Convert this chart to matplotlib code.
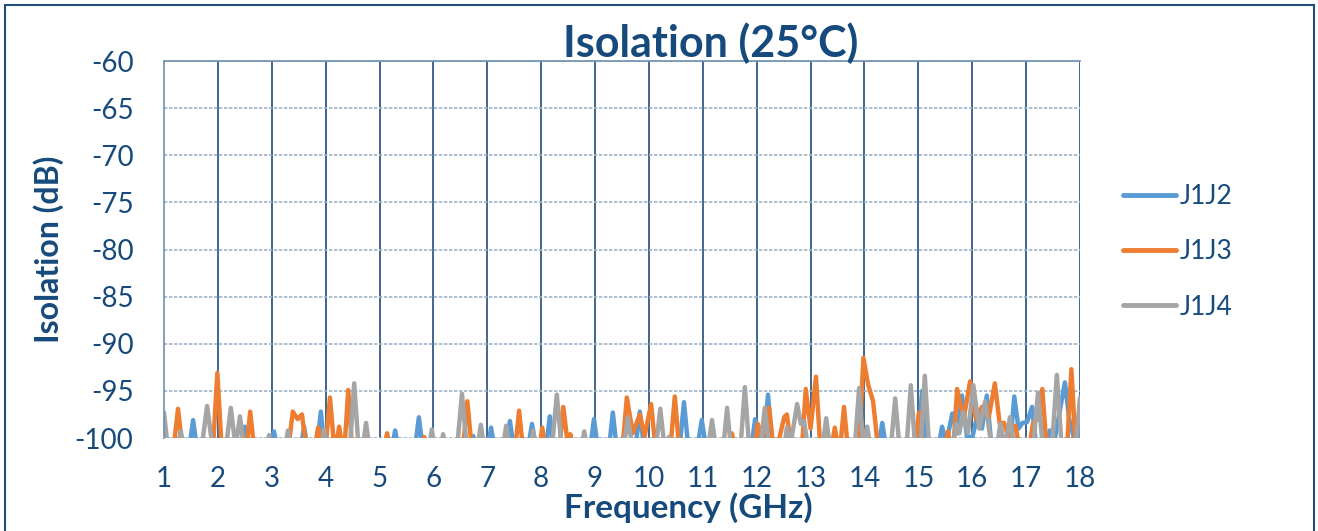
import matplotlib
matplotlib.use("Agg")
import matplotlib.pyplot as plt
from matplotlib.patches import Rectangle

# frequency (GHz) and isolation (dB), troughs at -101
j1j2_f = [1.0, 1.47, 1.54, 1.61, 2.27, 2.34, 2.41, 2.44, 2.50, 2.56, 2.98, 3.04, 3.10,
          3.54, 3.60, 3.66, 3.84, 3.91, 3.98, 5.23, 5.29, 5.35, 5.66, 5.73, 5.80,
          6.69, 6.74, 6.79, 7.01, 7.07, 7.13, 7.35, 7.42, 7.49, 7.76, 7.83, 7.90,
          8.09, 8.16, 8.23, 8.91, 8.98, 9.05, 9.26, 9.33, 9.40, 9.75, 9.83, 9.91,
          10.57, 10.65, 10.73, 10.90, 10.98, 11.06, 11.90, 11.97, 12.04, 12.13, 12.21, 12.29,
          14.26, 14.33, 14.40, 14.99, 15.07, 15.14, 15.37, 15.44, 15.52, 15.63, 15.72,
          15.81, 15.90, 16.00, 16.09, 16.18, 16.27, 16.36, 16.70, 16.78, 16.86, 16.93,
          17.02, 17.11, 17.19, 17.37, 17.44, 17.52, 17.72, 17.80, 17.93, 18.0]
j1j2_db = [-101, -101, -98.1, -101, -101, -99.9, -101, -101, -98.8, -101, -101, -99.3, -101,
           -101, -98.8, -101, -101, -97.2, -101, -101, -99.2, -101, -101, -97.8, -101,
           -101, -99.8, -101, -101, -98.9, -101, -101, -98.2, -101, -101, -98.5, -101,
           -101, -97.7, -101, -101, -98.0, -101, -101, -97.3, -101, -101, -97.2, -101,
           -101, -96.2, -101, -101, -98.1, -101, -101, -98.0, -100.2, -100.2, -95.4, -101,
           -101, -98.4, -101, -101, -95.0, -101, -101, -98.8, -100.5, -97.4, -99.5,
           -95.5, -99.8, -100.0, -97.7, -99.0, -95.5, -101, -101, -95.6, -99.0, -98.4,
           -98.3, -96.7, -101, -101, -99.2, -100.5, -94.1, -98.0, -101, -98.9]

j1j3_f = [1.0, 1.18, 1.26, 1.34, 1.91, 1.99, 2.07, 2.53, 2.60, 2.67, 3.31, 3.39, 3.48,
          3.56, 3.64, 3.80, 3.86, 3.92, 4.00, 4.08, 4.16, 4.19, 4.25, 4.31, 4.35, 4.42, 4.49,
          5.09, 5.14, 5.19, 5.79, 5.83, 5.87, 6.55, 6.63, 6.71, 7.52, 7.59, 7.66,
          7.97, 8.02, 8.07, 8.34, 8.41, 8.48, 8.51, 8.54, 8.57, 9.51, 9.59, 9.70, 9.83, 9.92,
          10.04, 10.12, 10.40, 10.48, 10.56, 11.49, 11.54, 11.59, 11.96, 12.02, 12.10, 12.23,
          12.31, 12.38, 12.51, 12.56, 12.64, 12.84, 12.91, 13.00, 13.10, 13.18, 13.39, 13.45,
          13.51, 13.55, 13.62, 13.69, 13.90, 13.98, 14.07, 14.16, 14.25, 14.94, 15.01, 15.08,
          15.50, 15.55, 15.60, 15.65, 15.72, 15.84, 15.96, 16.07, 16.18, 16.30, 16.42, 16.51,
          16.59, 16.68, 16.80, 16.88, 17.06, 17.13, 17.21, 17.30, 17.38, 17.76, 17.84, 17.92, 18.0]
j1j3_db = [-101, -101, -96.9, -101, -101, -93.1, -101, -101, -97.2, -101, -101, -97.2, -98.0,
           -97.5, -101, -101, -98.9, -100.3, -101, -95.7, -101, -101, -98.8, -101, -101, -94.9, -101,
           -101, -99.5, -101, -101, -99.9, -101, -101, -96.1, -101, -101, -97.1, -101,
           -101, -98.9, -101, -101, -96.7, -100.0, -101, -99.6, -101, -101, -95.7, -99.5, -97.5, -99.8,
           -96.4, -101, -101, -95.6, -101, -101, -99.5, -101, -101, -98.5, -100.0, -96.8,
           -101, -101, -97.8, -97.5, -101, -101, -94.8, -99.0, -93.5, -101, -101, -98.9,
           -101, -101, -96.7, -101, -101, -91.5, -94.4, -96.1, -101, -101, -97.3, -101,
           -101, -99.3, -101, -101, -94.8, -98.0, -94.0, -98.0, -96.7, -98.0, -94.2, -98.5,
           -98.4, -100.0, -98.7, -101, -101, -98.4, -98.0, -94.8, -101, -101, -92.7, -101, -101]

j1j4_f = [1.0, 1.07, 1.25, 1.31, 1.37, 1.70, 1.80, 1.90, 2.15, 2.24, 2.33, 2.41, 2.48,
          2.91, 2.95, 2.99, 3.25, 3.30, 3.35, 3.92, 3.97, 4.02, 4.45, 4.53, 4.61, 4.69, 4.75, 4.81,
          5.92, 5.97, 6.02, 6.14, 6.18, 6.22, 6.44, 6.53, 6.62, 6.82, 6.88, 6.94, 7.29, 7.35, 7.41,
          7.80, 7.85, 7.90, 8.20, 8.29, 8.38, 8.75, 8.80, 8.85, 9.53, 9.61, 9.69, 10.13, 10.21, 10.29,
          10.33, 10.37, 10.41, 11.10, 11.17, 11.24, 11.38, 11.45, 11.52, 11.70, 11.78, 11.86,
          12.07, 12.15, 12.23, 12.51, 12.56, 12.62, 12.75, 12.82, 12.88, 12.95, 13.22, 13.29, 13.36,
          13.82, 13.90, 13.98, 14.05, 14.11, 14.49, 14.57, 14.65, 14.78, 14.86, 14.94, 15.04, 15.12,
          15.20, 15.64, 15.70, 15.76, 15.83, 15.92, 16.02, 16.13, 16.24, 16.36, 16.46, 16.52, 16.61,
          16.70, 16.78, 17.13, 17.22, 17.31, 17.48, 17.57, 17.66, 17.92, 18.0]
j1j4_db = [-97.3, -101, -101, -99.3, -101, -101, -96.6, -101, -101, -96.8, -101, -97.7, -101,
           -101, -99.7, -101, -101, -99.2, -101, -101, -99.1, -101, -101, -94.2, -101, -101, -98.4, -101,
           -101, -99.1, -101, -101, -99.6, -101, -101, -95.3, -101, -101, -98.6, -101, -101, -98.7, -101,
           -101, -99.2, -101, -101, -95.4, -101, -101, -99.3, -101, -101, -97.8, -101, -101, -96.9, -101,
           -101, -99.9, -101, -101, -98.1, -101, -101, -96.8, -101, -101, -94.6, -101,
           -101, -96.8, -101, -101, -98.9, -101, -96.4, -98.5, -98.2, -101, -101, -97.9, -101,
           -101, -94.7, -101, -98.8, -101, -101, -95.8, -101, -101, -94.4, -101, -101, -93.4,
           -101, -101, -98.5, -99.5, -97.2, -99.5, -94.4, -99.0, -96.1, -101, -101, -98.5, -101,
           -97.8, -101, -101, -95.2, -101, -101, -93.3, -101, -101, -95.7]

series_names = ["J1J2", "J1J3", "J1J4"]
series_colors = ["#5B9BD5", "#ED7D31", "#A5A5A5"]
text_color = "#174A7C"

plt.rcParams["font.family"] = ["Lato", "DejaVu Sans"]
plt.rcParams["axes.unicode_minus"] = False

fig = plt.figure(figsize=(13.18, 5.31), dpi=100)
ax = fig.add_axes([164 / 1318, 1 - 438 / 531, 916 / 1318, 377 / 531])

for f, db, name, c in zip([j1j2_f, j1j3_f, j1j4_f], [j1j2_db, j1j3_db, j1j4_db],
                          series_names, series_colors):
    ax.plot(f, db, color=c, lw=3.2, label=name, solid_joinstyle="round",
            solid_capstyle="round")

ax.set_xlim(1, 18)
ax.set_ylim(-100, -60)
ax.set_xticks(range(1, 19))
ax.set_yticks(range(-100, -59, 5))

# gridlines: solid navy verticals, dashed light horizontals
for x in range(2, 19):
    ax.axvline(x, color="#1F4E79", lw=1.2, zorder=0)
ax.yaxis.grid(True, color="#9DB3C8", lw=1.2, ls=(0, (2, 1)), zorder=0)
ax.set_axisbelow(True)
for s in ["top", "left"]:
    ax.spines[s].set_color("#6E8FAF")
    ax.spines[s].set_linewidth(1.2)
ax.spines["right"].set_visible(False)
ax.spines["bottom"].set_visible(False)

ax.tick_params(length=0, labelsize=20, labelcolor=text_color)
ax.tick_params(axis="x", pad=20)
ax.tick_params(axis="y", pad=22)

ax.set_xlabel("Frequency (GHz)", fontsize=24, fontweight="bold", color=text_color)
ax.xaxis.set_label_coords((688 - 164) / 916, -(508 - 438) / 377)
ax.xaxis.label.set_va("center")
ax.set_ylabel("Isolation (dB)", fontsize=23, fontweight="bold", color=text_color, labelpad=8)
fig.text(711 / 1318, 1 - 43 / 531, "Isolation (25°C)", fontsize=31, fontweight="bold",
         color=text_color, ha="center", va="center")

leg = ax.legend(loc="center left", bbox_to_anchor=(1.021, 0.494), frameon=False,
                fontsize=19, labelspacing=1.15, handlelength=2.0, handletextpad=0.15)
for t in leg.get_texts():
    t.set_color(text_color)
for h in leg.get_lines():
    h.set_linewidth(3.5)

fig.patches.append(Rectangle((5 / 1318, -0.02), 1309 / 1318, 1 - 5 / 531 + 0.02,
                             transform=fig.transFigure, fill=False,
                             edgecolor="#1F4E79", lw=1.5))

fig.savefig("out.png", dpi=100)
